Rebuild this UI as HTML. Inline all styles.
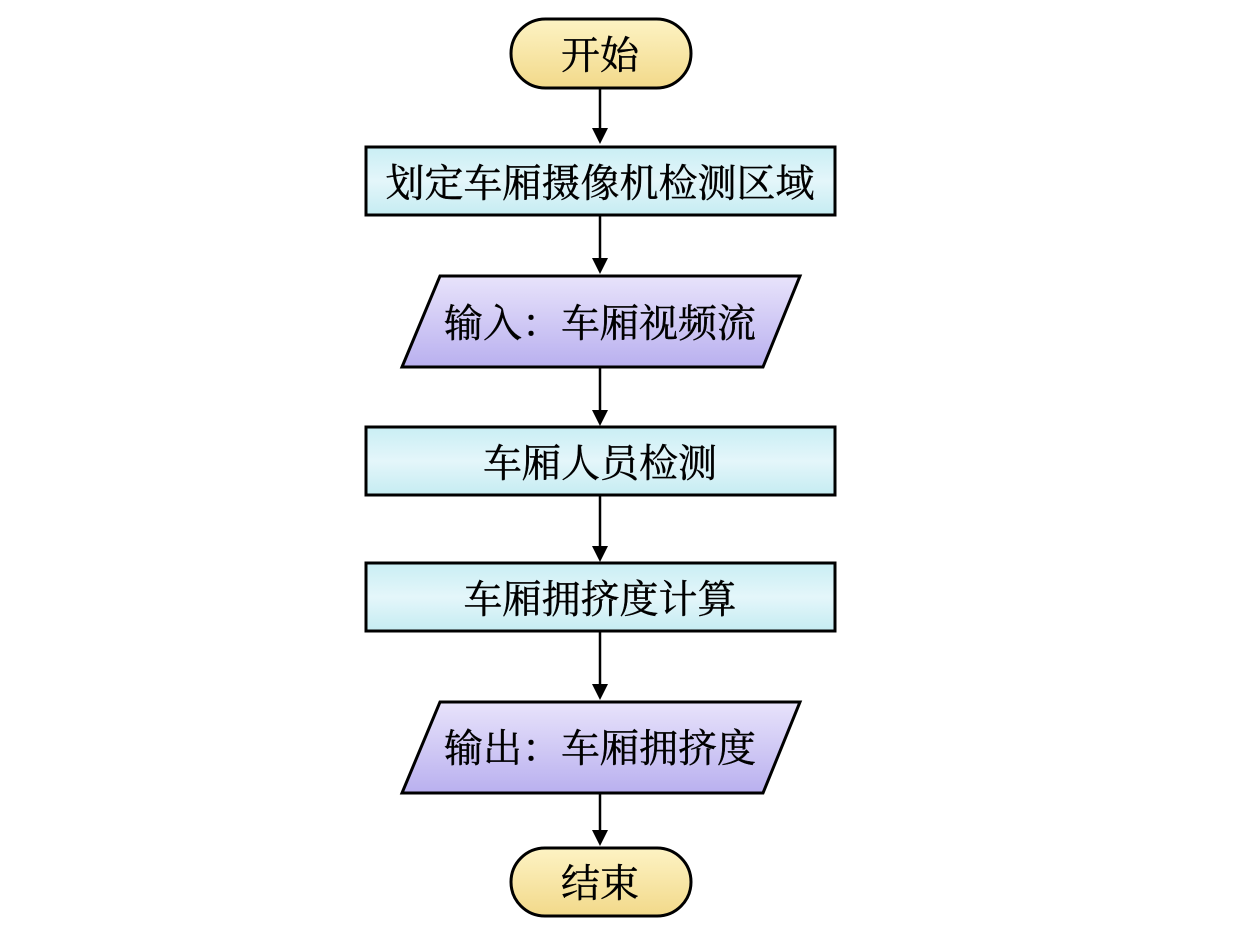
<!DOCTYPE html>
<html><head><meta charset="utf-8"><style>body{margin:0;background:#fff}</style></head><body>
<svg width="1260" height="936" xmlns="http://www.w3.org/2000/svg">
<defs>
<linearGradient id="y" x1="0" y1="0" x2="0" y2="1"><stop offset="0" stop-color="#fdf3c4"/><stop offset="1" stop-color="#f2d98a"/></linearGradient>
<linearGradient id="c" x1="0" y1="0" x2="0" y2="1"><stop offset="0" stop-color="#c9eef4"/><stop offset="0.5" stop-color="#e4f6fa"/><stop offset="1" stop-color="#c5ecf2"/></linearGradient>
<linearGradient id="p" x1="0" y1="0" x2="0" y2="1"><stop offset="0" stop-color="#e8e3fb"/><stop offset="1" stop-color="#b9b0ef"/></linearGradient>
</defs>
<g stroke="#000" stroke-width="3">
<rect x="511" y="19" width="180" height="69" rx="34.5" fill="url(#y)"/>
<rect x="366" y="147" width="469" height="68" fill="url(#c)"/>
<polygon points="440,276 800,276 763,367 402,367" fill="url(#p)"/>
<rect x="366" y="427" width="469" height="68" fill="url(#c)"/>
<rect x="366" y="563" width="469" height="68" fill="url(#c)"/>
<polygon points="440,702 800,702 763,793 402,793" fill="url(#p)"/>
<rect x="511" y="848" width="180" height="68" rx="34" fill="url(#y)"/>
</g>
<g stroke="#000" stroke-width="2.5">
<line x1="600" y1="88" x2="600" y2="130"/><line x1="600" y1="215" x2="600" y2="260"/>
<line x1="600" y1="367" x2="600" y2="412"/><line x1="600" y1="495" x2="600" y2="548"/>
<line x1="600" y1="631" x2="600" y2="686"/><line x1="600" y1="793" x2="600" y2="832"/>
</g>
<g fill="#000">
<path d="M592,128 L608,128 L600,144 z"/><path d="M592,258 L608,258 L600,274 z"/>
<path d="M592,410 L608,410 L600,426 z"/><path d="M592,546 L608,546 L600,562 z"/>
<path d="M592,684 L608,684 L600,700 z"/><path d="M592,830 L608,830 L600,846 z"/>
</g>
<g font-family="'Liberation Serif','Noto Serif CJK SC',serif" font-size="39" text-anchor="middle" fill="#000" stroke="#000" stroke-width="0.4">
<text x="600" y="69">开始</text>
<text x="600" y="197">划定车厢摄像机检测区域</text>
<text x="600" y="337">输入：车厢视频流</text>
<text x="600" y="477">车厢人员检测</text>
<text x="600" y="613">车厢拥挤度计算</text>
<text x="600" y="762">输出：车厢拥挤度</text>
<text x="600" y="897">结束</text>
</g>
</svg>
</body></html>
